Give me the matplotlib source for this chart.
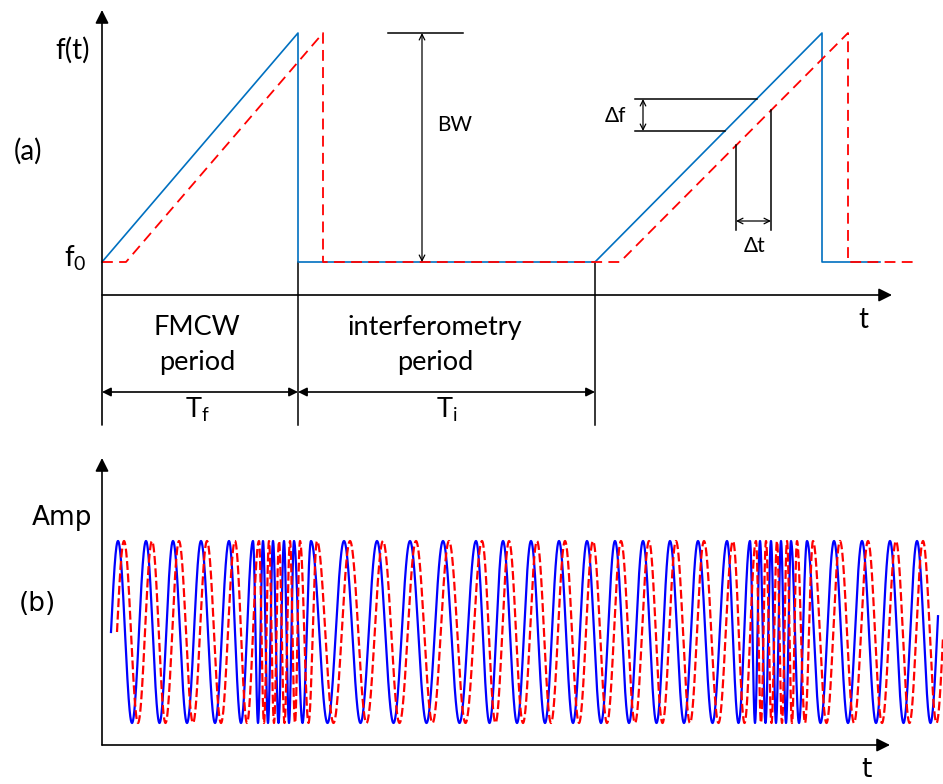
import numpy as np
import matplotlib.pyplot as plt

plt.rcParams['mathtext.fontset'] = 'custom'
plt.rcParams['mathtext.rm'] = 'Lato'

# ---- panel (a): transmitted (blue) and received (red) frequency ramps ----
tx_t = [102, 298, 298, 595, 822, 822, 880]
tx_f = [262, 33, 262, 262, 33, 262, 262]
rx_t = [102, 126, 323, 323, 620, 848, 848, 918]
rx_f = [262, 262, 33, 262, 262, 33, 262, 262]

# period boundaries
period_edges = [102, 298, 595]

# ---- panel (b): signal, blue peak positions ----
blue_peaks = [118, 146, 173, 201, 229,
              253, 263, 273, 284, 294,
              311, 344, 377, 410, 443, 476,
              503, 531, 559, 587, 615, 643, 670, 698, 727,
              750, 760, 771, 781, 791,
              807, 834, 862, 890, 917]
blue_start, blue_end = 111, 938
red_delay = 6
sig_center, sig_amp = 632, 91

fig = plt.figure(figsize=(9.43, 7.84), dpi=100)
ax = fig.add_axes([0, 0, 1, 1])
ax.set_xlim(0, 943)
ax.set_ylim(784, 0)
ax.axis('off')

txt_a = dict(family=['Lato', 'DejaVu Sans'], color='black')
txt_b = dict(family='DejaVu Sans', color='black')
ax_arrow = dict(arrowstyle='-|>', color='black', lw=1.2, mutation_scale=20,
                shrinkA=0, shrinkB=0)
dim_arrow = dict(arrowstyle='<|-|>', color='black', lw=1.2, mutation_scale=13,
                 shrinkA=0, shrinkB=0)
thin_arrow = dict(arrowstyle='<->', color='black', lw=0.9, mutation_scale=10,
                  shrinkA=0, shrinkB=0)

# axes of panel (a)
ax.annotate('', xy=(102, 10), xytext=(102, 425), arrowprops=ax_arrow)
ax.annotate('', xy=(892, 295), xytext=(102, 295), arrowprops=ax_arrow)
for x in period_edges[1:]:
    ax.plot([x, x], [262, 425], color='black', lw=1.1)

ax.plot(tx_t, tx_f, color='#0070C0', lw=1.2)
ax.plot(rx_t, rx_f, color='#FF0000', lw=1.3, dashes=(6, 3.5))

# BW
ax.plot([388, 463], [33, 33], color='black', lw=1.1)
ax.annotate('', xy=(422, 33), xytext=(422, 262), arrowprops=thin_arrow)
ax.text(455, 125, 'BW', fontsize=15, ha='center', va='center', **txt_a)

# delta f / delta t
ax.plot([635, 757], [99, 99], color='black', lw=1.1)
ax.plot([635, 725], [131, 131], color='black', lw=1.1)
ax.annotate('', xy=(643, 99), xytext=(643, 131), arrowprops=thin_arrow)
ax.text(615, 116, '\u0394f', fontsize=15, ha='center', va='center', **txt_a)
ax.plot([736, 736], [145, 230], color='black', lw=1.1)
ax.plot([771, 771], [110, 230], color='black', lw=1.1)
ax.annotate('', xy=(736, 221), xytext=(771, 221), arrowprops=thin_arrow)
ax.text(755, 246, '\u0394t', fontsize=15, ha='center', va='center', **txt_a)

# period arrows
ax.annotate('', xy=(period_edges[0], 392), xytext=(period_edges[1], 392),
            arrowprops=dim_arrow)
ax.annotate('', xy=(period_edges[1], 392), xytext=(period_edges[2], 392),
            arrowprops=dim_arrow)

ax.text(73, 50, 'f(t)', fontsize=20, ha='center', va='center', **txt_a)
ax.text(28, 151, '(a)', fontsize=20, ha='center', va='center', **txt_a)
ax.text(75, 258, r'$\mathrm{f_0}$', fontsize=20, ha='center', va='center', **txt_a)
ax.text(863, 320, 't', fontsize=20, ha='center', va='center', **txt_a)
ax.text(197, 327, 'FMCW', fontsize=19.5, ha='center', va='center', **txt_a)
ax.text(197, 362, 'period', fontsize=19.5, ha='center', va='center', **txt_a)
ax.text(435, 327, 'interferometry', fontsize=19.5, ha='center', va='center', **txt_a)
ax.text(435, 362, 'period', fontsize=19.5, ha='center', va='center', **txt_a)
ax.text(197, 410, r'$\mathrm{T_f}$', fontsize=19.5, ha='center', va='center', **txt_a)
ax.text(447, 410, r'$\mathrm{T_i}$', fontsize=19.5, ha='center', va='center', **txt_a)

# ---- panel (b) ----
ax.annotate('', xy=(102, 458), xytext=(102, 745), arrowprops=ax_arrow)
ax.annotate('', xy=(890, 745), xytext=(102, 745), arrowprops=ax_arrow)
ax.text(62, 518, 'Amp', fontsize=19, ha='center', va='center', **txt_b)
ax.text(37, 604, '(b)', fontsize=19, ha='center', va='center', **txt_b)
ax.text(866, 770, 't', fontsize=19, ha='center', va='center', **txt_b)

last_period = blue_peaks[-1] - blue_peaks[-2]
knot_x = [blue_start] + blue_peaks + [blue_end]
knot_c = ([0.0] + [k + 0.25 for k in range(len(blue_peaks))]
          + [len(blue_peaks) - 0.75 + (blue_end - blue_peaks[-1]) / last_period])
xs = np.linspace(blue_start, blue_end, 6000)
cyc = np.interp(xs, knot_x, knot_c)
ys = sig_center - sig_amp * np.sin(2 * np.pi * cyc)
ax.plot(xs, ys, color='#0000FF', lw=1.6)
ax.plot(xs + red_delay, ys, color='#FF0000', lw=1.6, dashes=(4, 1.6))

fig.savefig('out.png', dpi=100)
